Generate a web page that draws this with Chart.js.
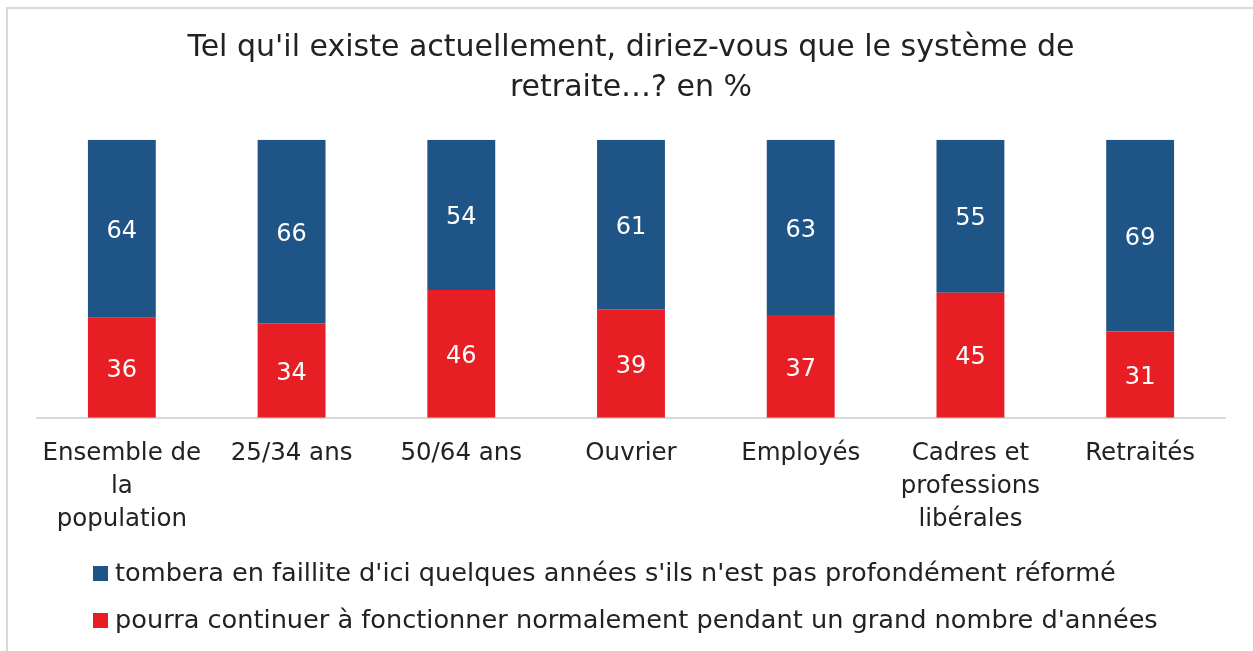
<!DOCTYPE html>
<html>
<head>
<meta charset="utf-8">
<script src="https://cdn.jsdelivr.net/npm/chart.js@4.4.1/dist/chart.umd.min.js"></script>
<style>
  html, body { margin: 0; padding: 0; background: #fff; }
  #wrap { position: relative; width: 1253px; height: 651px; }
</style>
</head>
<body>
<div id="wrap"><canvas id="retraiteChart" width="1253" height="651"></canvas></div>
<script>
const FONT = "'DejaVu Sans', sans-serif";

// Catégories (axe X)
const categories = [
    ['Ensemble de', 'la', 'population'],
    '25/34 ans',
    '50/64 ans',
    'Ouvrier',
    'Employés',
    ['Cadres et', 'professions', 'libérales'],
    'Retraités'
];

// Séries (en %)
const pourraContinuer = [36, 34, 46, 39, 37, 45, 31];
const tomberaFaillite = [64, 66, 54, 61, 63, 55, 69];

const seriesLabels = [
    "tombera en faillite d'ici quelques années s'ils n'est pas profondément réformé",
    "pourra continuer à fonctionner normalement pendant un grand nombre d'années"
];
const titleLines = ["Tel qu'il existe actuellement, diriez-vous que le système de", 'retraite…? en %'];

const BLUE = '#1f5586';
const RED = '#e81e25';
const TEXT = '#222222';

// valeurs au centre des segments
const valueLabels = {
    id: 'valueLabels',
    afterDatasetsDraw(chart) {
        const ctx = chart.ctx;
        ctx.save();
        ctx.fillStyle = '#ffffff';
        ctx.font = '24px ' + FONT;
        ctx.textAlign = 'center';
        ctx.textBaseline = 'middle';
        chart.data.datasets.forEach((ds, i) => {
            const meta = chart.getDatasetMeta(i);
            meta.data.forEach((bar, j) => {
                const y = (bar.y + bar.base) / 2;
                ctx.fillText(ds.data[j], bar.x, y + 3);
            });
        });
        ctx.restore();
    }
};

// cadre gris + légende alignée à gauche
const frameAndLegend = {
    id: 'frameAndLegend',
    afterDraw(chart) {
        const ctx = chart.ctx;
        ctx.save();
        ctx.strokeStyle = '#d9d9d9';
        ctx.lineWidth = 2;
        ctx.beginPath();
        ctx.moveTo(7, chart.height);
        ctx.lineTo(7, 8);
        ctx.lineTo(chart.width, 8);
        ctx.stroke();

        ctx.font = '25.6px ' + FONT;
        ctx.textBaseline = 'middle';
        ctx.textAlign = 'left';
        const rows = [
            { ds: chart.data.datasets[1], y: 573 },
            { ds: chart.data.datasets[0], y: 620 }
        ];
        rows.forEach(r => {
            ctx.fillStyle = r.ds.backgroundColor;
            ctx.fillRect(93, r.y - 7, 15, 15);
            ctx.fillStyle = TEXT;
            ctx.fillText(r.ds.label, 115, r.y + 1);
        });
        ctx.restore();
    }
};

const ctx = document.getElementById('retraiteChart').getContext('2d');
const retraiteChart = new Chart(ctx, {
    type: 'bar',
    data: {
        labels: categories,
        datasets: [
            {
                label: seriesLabels[1],
                data: pourraContinuer,
                backgroundColor: RED,
                categoryPercentage: 1,
                barPercentage: 0.4
            },
            {
                label: seriesLabels[0],
                data: tomberaFaillite,
                backgroundColor: BLUE,
                categoryPercentage: 1,
                barPercentage: 0.4
            }
        ]
    },
    options: {
        responsive: false,
        animation: false,
        layout: {
            padding: { left: 37, right: 28, top: 0, bottom: 104 }
        },
        plugins: {
            legend: { display: false },
            tooltip: { enabled: false },
            title: {
                display: true,
                text: titleLines,
                color: TEXT,
                font: { family: FONT, size: 30, weight: 'normal', lineHeight: 1.33 },
                padding: { top: 28, bottom: 32 }
            }
        },
        scales: {
            x: {
                stacked: true,
                grid: { display: false },
                border: { display: true, color: '#d9d9d9', width: 2 },
                ticks: {
                    color: TEXT,
                    font: { family: FONT, size: 24.5, lineHeight: 1.35 },
                    padding: 11,
                    maxRotation: 0,
                    autoSkip: false
                }
            },
            y: {
                stacked: true,
                display: false,
                min: 0,
                max: 100
            }
        }
    },
    plugins: [valueLabels, frameAndLegend]
});
</script>
</body>
</html>
